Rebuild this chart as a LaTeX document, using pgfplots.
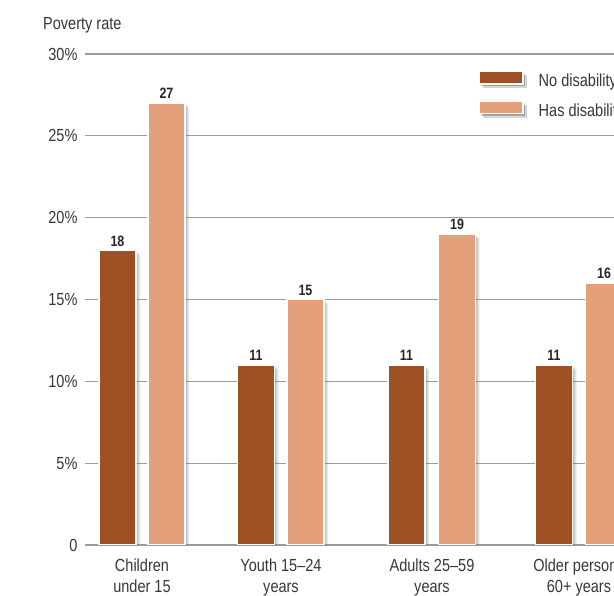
\documentclass[border=0pt]{standalone}
\usepackage{fontspec}
\setmainfont[FakeStretch=0.83]{Liberation Sans}
\usepackage{pgfplots}
\pgfplotsset{compat=1.18}
\usetikzlibrary{shadows}
\definecolor{darkbar}{RGB}{157,80,36}
\definecolor{lightbar}{RGB}{228,160,122}
\definecolor{gridc}{RGB}{155,155,155}
\definecolor{txt}{RGB}{55,55,55}
\tikzset{barshadow/.style={
  drop shadow={shadow xshift=4pt, shadow yshift=-4pt, opacity=0.10, fill=black},
  drop shadow={shadow xshift=2.5pt, shadow yshift=-2.5pt, opacity=0.14, fill=black}}}
\begin{document}
\begin{tikzpicture}[x=1pt,y=1pt]
\path[use as bounding box] (0,0) rectangle (614,596);
\clip (0,0) rectangle (614,596);
\node[anchor=base west, font=\fontsize{17.5}{21}\selectfont, text=txt, inner sep=0pt] at (43,566) {Poverty rate};
\begin{axis}[
  at={(85pt,51pt)}, anchor=south west,
  x=1pt, y=16.367pt,
  xmin=85, xmax=650, ymin=0, ymax=30,
  /pgf/number format/assume math mode=true,
  axis line style={draw=none},
  major tick length=0pt,
  ytick={0,5,10,15,20,25,30},
  yticklabels={0,5\%,10\%,15\%,20\%,25\%,30\%},
  ymajorgrids, grid style={gridc, line width=1.3pt},
  yticklabel style={anchor=east, xshift=-4pt, font=\fontsize{17.5}{21}\selectfont, text=txt},
  xtick={142,281,432,579},
  xticklabels={Children\\under 15, Youth 15--24\\years, Adults 25--59\\years, Older persons\\60+ years},
  xticklabel style={align=center, anchor=north, inner sep=0pt, yshift=-14pt, font=\fontsize{17.5}{21}\selectfont, text=txt},
  every node near coord/.append style={font=\bfseries\fontsize{15}{18}\selectfont, text=black!85},
  legend style={at={(axis cs:478,29.0)}, anchor=north west, draw=none, fill=none, inner sep=0pt, row sep=10pt, column sep=13pt, font=\fontsize{17.5}{21}\selectfont, text=txt},
  legend cell align=left,
]
\addplot[ybar, bar width=37, bar shift=0pt, fill=darkbar, draw=white, line width=1.5pt, barshadow,
  nodes near coords,
  legend image code/.code={\draw[fill=darkbar, draw=white, line width=1.5pt, barshadow] (0pt,-2.8pt) rectangle (44pt,9.8pt);}]
  coordinates {(117.5,18) (256,11) (406.5,11) (554,11)};
\addlegendentry{No disability}
\addplot[ybar, bar width=37, bar shift=0pt, fill=lightbar, draw=white, line width=1.5pt, barshadow,
  nodes near coords,
  legend image code/.code={\draw[fill=lightbar, draw=white, line width=1.5pt, barshadow] (0pt,-2.8pt) rectangle (44pt,9.8pt);}]
  coordinates {(166.5,27) (305.5,15) (457,19) (604,16)};
\addlegendentry{Has disability}
\end{axis}
\end{tikzpicture}
\end{document}
